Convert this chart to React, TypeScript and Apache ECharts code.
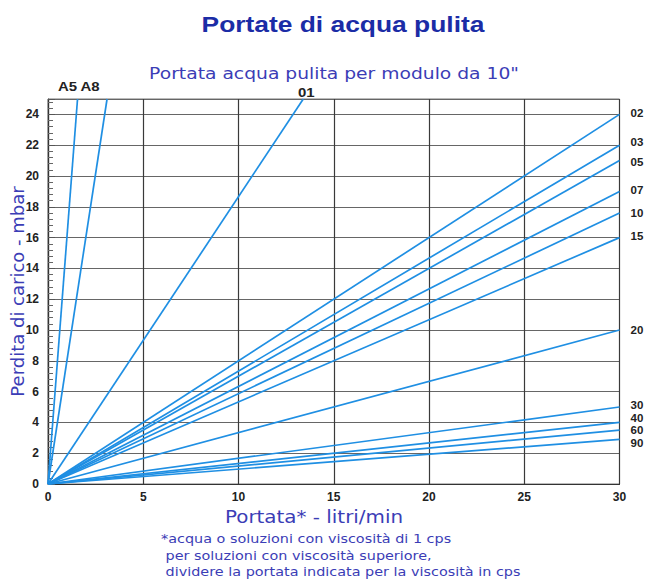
import React, { useEffect, useRef } from "react";
import * as echarts from "echarts";

// Module names (one line per filter module)
const moduleNames = ["A5", "A8", "01", "02", "03", "05", "07", "10", "15", "20", "30", "40", "60", "90"];
// End point of each line (flow l/min, pressure drop mbar); every line starts at the origin
const endFlow = [1.55, 3.1, 13.4, 30, 30, 30, 30, 30, 30, 30, 30, 30, 30, 30];
const endLoss = [25, 25, 25, 24, 22, 21, 19, 17.6, 16, 10, 5, 4, 3.5, 2.9];

const xTickValues = [0, 5, 10, 15, 20, 25, 30];
const yTickValues = [0, 2, 4, 6, 8, 10, 12, 14, 16, 18, 20, 22, 24];

const titleText = "Portate di acqua pulita";
const subtitleText = 'Portata acqua pulita per modulo da 10"';
const xName = "Portata* - litri/min";
const yName = "Perdita di carico - mbar";
const footnotes = [
  "*acqua o soluzioni con viscosità di 1 cps",
  " per soluzioni con viscosità superiore,",
  " dividere la portata indicata per la viscosità in cps",
];

// label pixel offsets relative to each line's end point (style only)
const labelOffsets: [number, number][] = [
  [-10, -13], [-17, -13], [3, -7],
  [11, -1], [11, -3], [11, 1], [11, -1], [11, 0], [11, -2], [11, 0],
  [11, -2], [11, -4], [11, 0], [11, 4],
];

const LINE_COLOR = "#1f8fe3";
const BLUE_TEXT = "#3b3db6";

export default function App() {
  const ref = useRef<HTMLDivElement>(null);
  useEffect(() => {
    if (!ref.current) return;
    const chart = echarts.init(ref.current, undefined, { renderer: "svg" });
    const series = moduleNames.map((name, i) => ({
      name,
      type: "line",
      data: [
        [0, 0],
        [endFlow[i], endLoss[i]],
      ],
      showSymbol: false,
      symbol: "none",
      lineStyle: { color: LINE_COLOR, width: 1.7 },
      clip: true,
    }));
    chart.setOption({
      animation: false,
      backgroundColor: "#ffffff",
      grid: {
        left: 48,
        right: 28.5,
        top: 99,
        bottom: 95,
        show: true,
        borderColor: "#777",
        borderWidth: 1,
        containLabel: false,
        outerBoundsMode: "none",
      },
      xAxis: {
        type: "value",
        min: 0,
        max: 30,
        interval: 5,
        axisLine: { show: true, lineStyle: { color: "#333", width: 1.2 } },
        axisTick: { show: false },
        axisLabel: {
          fontFamily: "Liberation Sans",
          fontWeight: "bold",
          fontSize: 12,
          color: "#222",
          margin: 7,
          formatter: (v: number) => (xTickValues.includes(v) ? String(v) : ""),
        },
        splitLine: { show: true, lineStyle: { color: "#3a3a3a", width: 1.2 } },
      },
      yAxis: {
        type: "value",
        min: 0,
        max: 25,
        interval: 2,
        name: yName,
        nameLocation: "middle",
        nameGap: 22,
        nameMoveOverlap: false,
        nameTextStyle: {
          fontFamily: "DejaVu Sans",
          fontSize: 18,
          color: BLUE_TEXT,
        },
        axisLine: { show: true, lineStyle: { color: "#333", width: 1.2 } },
        axisTick: { show: true, inside: true, length: 7, lineStyle: { color: "#555" } },
        minorTick: { show: true, splitNumber: 5, length: 5, lineStyle: { color: "#666" } },
        axisLabel: {
          fontFamily: "Liberation Sans",
          fontWeight: "bold",
          fontSize: 12,
          color: "#222",
          margin: 9,
          showMaxLabel: false,
          formatter: (v: number) => (yTickValues.includes(v) ? String(v) : ""),
        },
        splitLine: { show: true, lineStyle: { color: "#666", width: 1.2 } },
      },
      series,
    });

    const graphics: any[] = [
      {
        type: "text",
        x: 343,
        y: 24,
        scaleX: 1.2,
        style: {
          text: titleText,
          fontFamily: "Liberation Sans",
          fontWeight: "bold",
          fontSize: 22,
          fill: "#1b2ca6",
          align: "center",
          verticalAlign: "middle",
        },
      },
      {
        type: "text",
        x: 334,
        y: 73,
        scaleX: 1.17,
        style: {
          text: subtitleText,
          fontFamily: "DejaVu Sans",
          fontSize: 16,
          fill: BLUE_TEXT,
          align: "center",
          verticalAlign: "middle",
        },
      },
      {
        type: "text",
        x: 314,
        y: 517,
        scaleX: 1.17,
        style: {
          text: xName,
          fontFamily: "DejaVu Sans",
          fontSize: 17,
          fill: BLUE_TEXT,
          align: "center",
          verticalAlign: "middle",
        },
      },
    ];
    footnotes.forEach((t, i) => {
      graphics.push({
        type: "text",
        x: 161,
        y: 539 + i * 16.5,
        scaleX: 1.2,
        style: {
          text: t,
          fontFamily: "DejaVu Sans",
          fontSize: 12,
          fill: BLUE_TEXT,
          align: "left",
          verticalAlign: "middle",
        },
      });
    });
    moduleNames.forEach((name, i) => {
      const p = chart.convertToPixel({ xAxisIndex: 0, yAxisIndex: 0 }, [endFlow[i], endLoss[i]]) as number[];
      const off = labelOffsets[i];
      const isTop = endLoss[i] >= 25;
      graphics.push({
        type: "text",
        x: p[0] + off[0],
        y: p[1] + off[1],
        scaleX: isTop ? 1.15 : 1,
        style: {
          text: name,
          fontFamily: "Liberation Sans",
          fontWeight: "bold",
          fontSize: isTop ? 13 : 11.5,
          fill: "#222",
          align: isTop ? "center" : "left",
          verticalAlign: "middle",
        },
      });
    });
    chart.setOption({ graphic: graphics });
    return () => chart.dispose();
  }, []);
  return (
    <div
      ref={ref}
      style={{ position: "fixed", left: 0, top: 0, width: 648, height: 579, background: "#fff" }}
    />
  );
}
